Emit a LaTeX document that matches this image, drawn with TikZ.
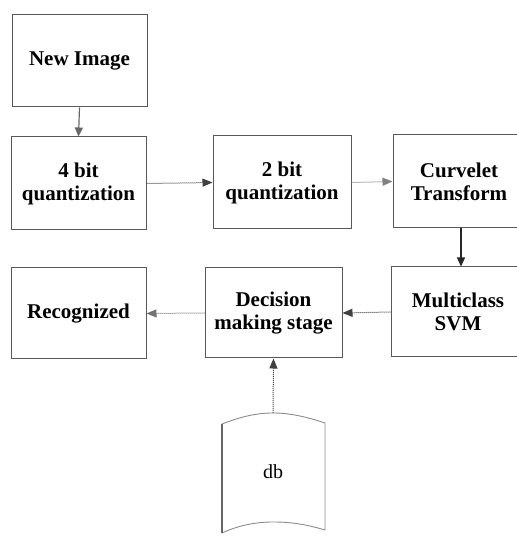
\documentclass[tikz,border=0pt]{standalone}
\usepackage{fontspec}
\setmainfont{Liberation Serif}
\newfontfamily\blockfont{Liberation Serif}
\usetikzlibrary{arrows.meta}
\begin{document}
\begin{tikzpicture}[x=1pt,y=1pt,
  blockbox/.style={draw=black!65, line width=1pt, fill=white, align=center,
    inner sep=0pt, font=\blockfont\bfseries\fontsize{21}{23}\selectfont},
  solidlink/.style={draw=black!60, line width=1.2pt, -{Triangle[length=9pt,width=8pt]}},
  dotlink/.style={draw=black!75, line width=1pt, densely dotted,
    -{Triangle[length=10pt,width=8pt]}},
  storeline/.style={draw=black!45, line width=0.9pt}]
\useasboundingbox (0,0) rectangle (517,539);
\fill[white] (0,0) rectangle (517,539);

% processing blocks (y measured upwards from the bottom edge)
\node[blockbox, minimum width=135pt, minimum height=92pt] (new)  at (79.5,478) {New Image};
\node[blockbox, minimum width=135pt, minimum height=93pt] (q4)   at (78.5,355.5) {4 bit\\quantization};
\node[blockbox, minimum width=138pt, minimum height=93pt] (q2)   at (282,356.5) {2 bit\\quantization};
\node[blockbox, minimum width=132pt, minimum height=93pt] (curv) at (459,357.5) {Curvelet\\Transform};
\node[blockbox, minimum width=134pt, minimum height=90pt] (svm)  at (458,227) {Multiclass\\SVM};
\node[blockbox, minimum width=137pt, minimum height=90pt] (dec)  at (273.5,226) {Decision\\making stage};
\node[blockbox, minimum width=135pt, minimum height=91pt] (rec)  at (78.5,225.5) {Recognized};

% database drum
\coordinate (dbtl) at (222,115);
\coordinate (dbtr) at (325,116);
\coordinate (dbbl) at (222,6);
\coordinate (dbbr) at (325,9);
\coordinate (dbtop) at (273,126);
\draw[storeline] (dbtl) .. controls (240,122) and (256,126) .. (dbtop)
  .. controls (292,126) and (310,121) .. (dbtr) -- (dbbr)
  .. controls (305,15) and (290,17) .. (273,17)
  .. controls (252,17) and (235,12) .. (dbbl);
\draw[draw=black!60, line width=1.2pt] (dbtl) -- (dbbl);
\node[font=\blockfont\fontsize{20}{23}\selectfont] (db) at (273,67) {db};

% connectors
\draw[solidlink] (new.south) -- (q4.north);
\draw[dotlink] (q4.east) -- (q2.west);
\draw[dotlink, draw=black!50] (q2.east) -- (curv.west);
\draw[solidlink, draw=black!85] (curv.south -| 461,0) -- (svm.north -| 461,0);
\draw[dotlink] (svm.west) -- (dec.east);
\draw[dotlink, draw=black!55] (dec.west) -- (rec.east);
\draw[dotlink] (dbtop) -- (dec.south);
\end{tikzpicture}
\end{document}
